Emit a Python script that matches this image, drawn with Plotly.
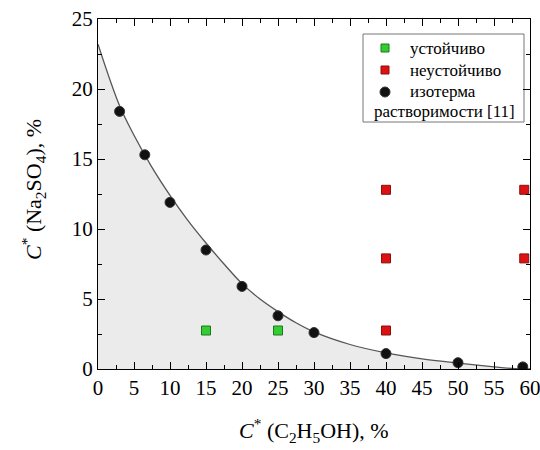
import plotly.graph_objects as go

# isotherm (solubility) points
iso_x = [3, 6.5, 10, 15, 20, 25, 30, 40, 50, 59]
iso_y = [18.4, 15.3, 11.9, 8.5, 5.9, 3.8, 2.6, 1.1, 0.45, 0.15]

# stable (green) and unstable (red) points
stable_x = [15, 25]
stable_y = [2.75, 2.75]
unstable_x = [40, 40, 40, 59.2, 59.2]
unstable_y = [12.8, 7.9, 2.75, 12.8, 7.9]

# fitted curve
curve_x = [0, 3, 5, 7.5, 10, 12.5, 15, 17.5, 20, 22.5, 25, 27.5, 30, 35, 40, 45, 50, 55, 58, 60]
curve_y = [23.2, 18.8, 16.7, 14.4, 12.4, 10.6, 9.0, 7.5, 6.1, 5.0, 4.1, 3.3, 2.65, 1.75, 1.15, 0.72, 0.42, 0.15, 0.02, 0.0]

x_ticks = list(range(0, 61, 5))
y_ticks = list(range(0, 26, 5))

legend_labels = ["устойчиво", "неустойчиво", "изотерма"]
legend_extra = "растворимости [11]"
x_title = "<i>C</i><sup>*</sup> (C<sub>2</sub>H<sub>5</sub>OH), %"
y_title = "<i>C</i><sup>*</sup> (Na<sub>2</sub>SO<sub>4</sub>), %"

FONT = "'Liberation Serif', 'DejaVu Serif', serif"
GREEN = "#33cc33"
RED = "#dd1111"
BLACK = "#111111"

fig = go.Figure()
fig.add_trace(go.Scatter(x=curve_x, y=curve_y, mode="lines", line=dict(color="#555555", width=1.3, shape="spline"),
                         fill="tozeroy", fillcolor="#ebebeb", showlegend=False, hoverinfo="skip"))
fig.add_trace(go.Scatter(x=stable_x, y=stable_y, mode="markers", name=legend_labels[0], showlegend=False,
                         marker=dict(symbol="square", size=9, color=GREEN, line=dict(color="#1a7a1a", width=1))))
fig.add_trace(go.Scatter(x=unstable_x, y=unstable_y, mode="markers", name=legend_labels[1], showlegend=False,
                         marker=dict(symbol="square", size=9, color=RED, line=dict(color="#881111", width=1))))
fig.add_trace(go.Scatter(x=iso_x, y=iso_y, mode="markers", name=legend_labels[2], showlegend=False,
                         marker=dict(symbol="circle", size=10, color=BLACK, line=dict(color="#333333", width=1))))

axis_common = dict(showline=True, linecolor="black", linewidth=1.2, mirror="allticks",
                   ticks="inside", ticklen=7, tickcolor="black", showgrid=False, zeroline=False,
                   automargin=False, ticklabeloverflow="allow",
                   tickfont=dict(family=FONT, size=21, color="black"))

fig.update_xaxes(range=[0, 60], tickvals=x_ticks, ticktext=[str(v) for v in x_ticks],
                 minor=dict(ticks="inside", ticklen=4, dtick=2.5, tickcolor="black"),
                 ticklabelstandoff=0, **axis_common)
fig.update_yaxes(range=[0, 25], tickvals=y_ticks, ticktext=[str(v) for v in y_ticks],
                 minor=dict(ticks="inside", ticklen=4, dtick=2.5, tickcolor="black"),
                 ticklabelstandoff=0, **axis_common)

# paper coords: plot area x 98..530, y 19..369
def px_x(p):
    return (p - 98) / 432.0

def px_y(p):
    return (369 - p) / 350.0

# axis titles
fig.add_annotation(text=x_title, xref="paper", yref="paper", x=px_x(314), y=px_y(431),
                   showarrow=False, xanchor="center", yanchor="middle",
                   font=dict(family=FONT, size=22, color="black"))
fig.add_annotation(text=y_title, xref="paper", yref="paper", x=px_x(33), y=px_y(190), textangle=-90,
                   showarrow=False, xanchor="center", yanchor="middle",
                   font=dict(family=FONT, size=22, color="black"))

# manual legend
fig.add_shape(type="rect", xref="paper", yref="paper", x0=px_x(363), x1=px_x(524), y0=px_y(122), y1=px_y(34),
              line=dict(color="#777777", width=1), fillcolor="white", layer="below")
rows = [48, 70, 92]
colors = [GREEN, RED, BLACK]
edges = ["#1a7a1a", "#881111", "#333333"]
for i, (lab, ry) in enumerate(zip(legend_labels, rows)):
    if i < 2:
        fig.add_shape(type="rect", xref="paper", yref="paper",
                      x0=px_x(381), x1=px_x(389), y0=px_y(ry + 4), y1=px_y(ry - 4),
                      line=dict(color=edges[i], width=1), fillcolor=colors[i])
    else:
        fig.add_shape(type="circle", xref="paper", yref="paper",
                      x0=px_x(380), x1=px_x(390), y0=px_y(ry + 5), y1=px_y(ry - 5),
                      line=dict(color=edges[i], width=1), fillcolor=colors[i])
    fig.add_annotation(text=lab, xref="paper", yref="paper", x=px_x(408), y=px_y(ry),
                       showarrow=False, xanchor="left", yanchor="middle",
                       font=dict(family=FONT, size=17, color="black"))
fig.add_annotation(text=legend_extra, xref="paper", yref="paper", x=px_x(444), y=px_y(111),
                   showarrow=False, xanchor="center", yanchor="middle",
                   font=dict(family=FONT, size=17, color="black"))

fig.update_layout(
    width=540, height=450,
    margin=dict(l=98, r=10, t=19, b=81),
    plot_bgcolor="white", paper_bgcolor="white",
    showlegend=False,
    font=dict(family=FONT),
)

fig.write_html("out.html")
